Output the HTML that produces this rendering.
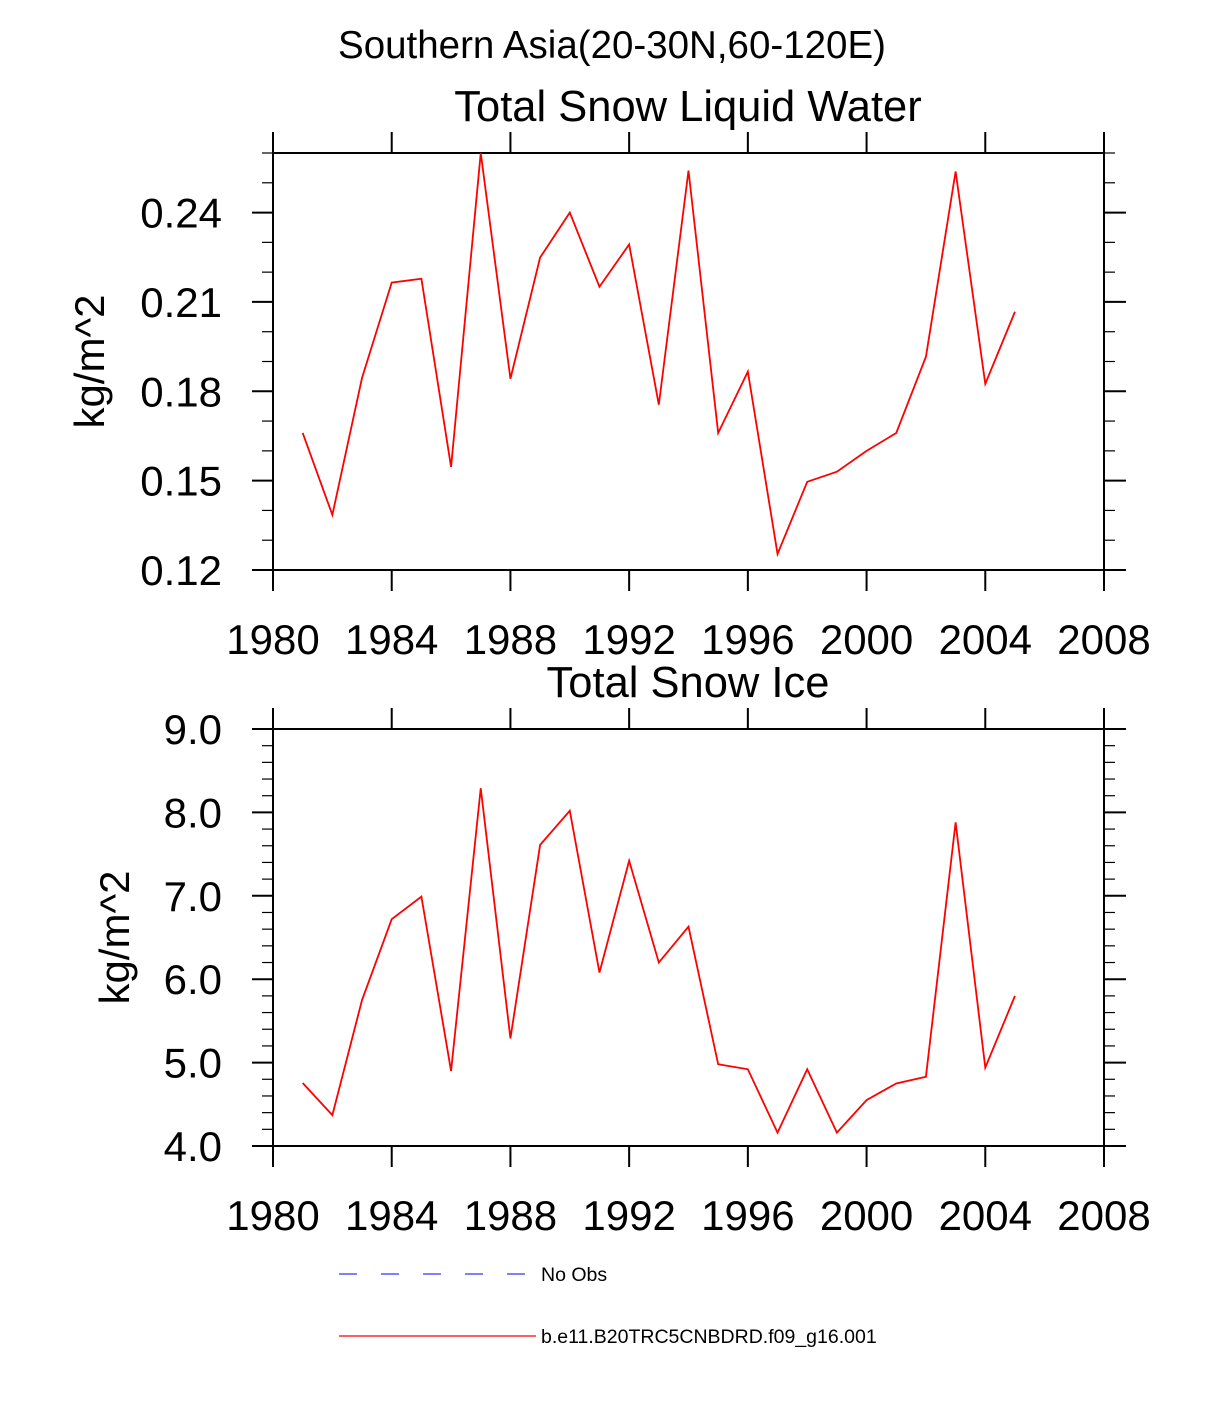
<!DOCTYPE html>
<html><head><meta charset="utf-8"><style>
html,body{margin:0;padding:0;background:#fff;}
svg{display:block;font-family:"Liberation Sans",sans-serif;}
</style></head><body>
<svg id="chart" width="1224" height="1404" viewBox="0 0 1224 1404">
<text x="612" y="58" text-anchor="middle" font-size="38.5">Southern Asia(20-30N,60-120E)</text>
<g id="p1"></g>
<g id="p2"></g>
<g>
<line x1="339" y1="1274" x2="527" y2="1274" stroke="#3333ff" stroke-width="1.2" stroke-dasharray="18,24"/>
<text x="541" y="1281" font-size="19.5">No Obs</text>
<line x1="339" y1="1336" x2="536" y2="1336" stroke="red" stroke-width="1.2"/>
<text x="541" y="1343" font-size="19.5">b.e11.B20TRC5CNBDRD.f09_g16.001</text>
</g>
</svg>
<script>
const years=[1981,1982,1983,1984,1985,1986,1987,1988,1989,1990,1991,1992,1993,1994,1995,1996,1997,1998,1999,2000,2001,2002,2003,2004,2005];
const liquidWater=[0.166,0.1385,0.1845,0.2165,0.2178,0.1546,0.260,0.1842,0.2249,0.240,0.2151,0.2293,0.1755,0.2541,0.166,0.1866,0.1254,0.1496,0.153,0.160,0.166,0.1916,0.2538,0.1825,0.2067];
const snowIce=[4.755,4.37,5.75,6.72,6.99,4.90,8.29,5.29,7.61,8.02,6.08,7.42,6.20,6.63,4.98,4.92,4.16,4.92,4.16,4.55,4.75,4.83,7.88,4.94,5.80];
const xTicks=[1980,1984,1988,1992,1996,2000,2004,2008];
const yTicks1=[0.12,0.15,0.18,0.21,0.24];
const yTickLabels1=["0.12","0.15","0.18","0.21","0.24"];
const yTicks2=[4,5,6,7,8,9];
const yTickLabels2=["4.0","5.0","6.0","7.0","8.0","9.0"];
const NS="http://www.w3.org/2000/svg";
function mk(parent,tag,attrs){const e=document.createElementNS(NS,tag);for(const k in attrs)e.setAttribute(k,attrs[k]);parent.appendChild(e);return e;}
function panel(g,o){
  const L=273,R=1104,T=o.top,B=o.bottom;
  const sx=v=>L+(v-1980)/(2008-1980)*(R-L);
  const sy=v=>B-(v-o.ymin)/(o.ymax-o.ymin)*(B-T);
  const t=mk(g,"text",{x:688,y:T-32,"text-anchor":"middle","font-size":"43.5"});
  t.textContent=o.title;
  
  
  const box=mk(g,"rect",{x:L,y:T,width:R-L,height:B-T,fill:"none",stroke:"#000","stroke-width":2});
  
  
  for(let v=o.ymin;v<=o.ymax+1e-9;v+=o.minor){
    const y=sy(v);
    mk(g,"line",{x1:L-11,y1:y,x2:L,y2:y,stroke:"#000","stroke-width":1.2});
    mk(g,"line",{x1:R,y1:y,x2:R+11,y2:y,stroke:"#000","stroke-width":1.2});
  }
  o.yt.forEach((v,i)=>{
    const y=sy(v);
    mk(g,"line",{x1:L-21,y1:y,x2:L,y2:y,stroke:"#000","stroke-width":2});
    mk(g,"line",{x1:R,y1:y,x2:R+22,y2:y,stroke:"#000","stroke-width":2});
    const tl=mk(g,"text",{x:L-51,y:y+15,"text-anchor":"end","font-size":"42"});
    tl.textContent=o.yl[i];
    
    
  });
  xTicks.forEach(v=>{
    const x=sx(v);
    mk(g,"line",{x1:x,y1:T-21,x2:x,y2:T,stroke:"#000","stroke-width":2});
    mk(g,"line",{x1:x,y1:B,x2:x,y2:B+21,stroke:"#000","stroke-width":2});
    const tl=mk(g,"text",{x:x,y:B+84,"text-anchor":"middle","font-size":"42"});
    tl.textContent=String(v);
    
    
  });
  const yl=mk(g,"text",{x:0,y:0,"text-anchor":"middle","font-size":"42",transform:`translate(${o.ylx},${(T+B)/2}) rotate(-90)`});
  yl.textContent="kg/m^2";
  
  
  const pts=years.map((yr,i)=>sx(yr)+","+sy(o.data[i])).join(" ");
  const pl=mk(g,"polyline",{points:pts,fill:"none",stroke:"red","stroke-width":1.8,"stroke-linejoin":"miter"});
  
  
}
panel(document.getElementById("p1"),{top:153,bottom:570,ymin:0.12,ymax:0.26,minor:0.01,yt:yTicks1,yl:yTickLabels1,data:liquidWater,title:"Total Snow Liquid Water",ylx:104});
panel(document.getElementById("p2"),{top:729,bottom:1146,ymin:4,ymax:9,minor:0.2,yt:yTicks2,yl:yTickLabels2,data:snowIce,title:"Total Snow Ice",ylx:129});
</script>
</body></html>
